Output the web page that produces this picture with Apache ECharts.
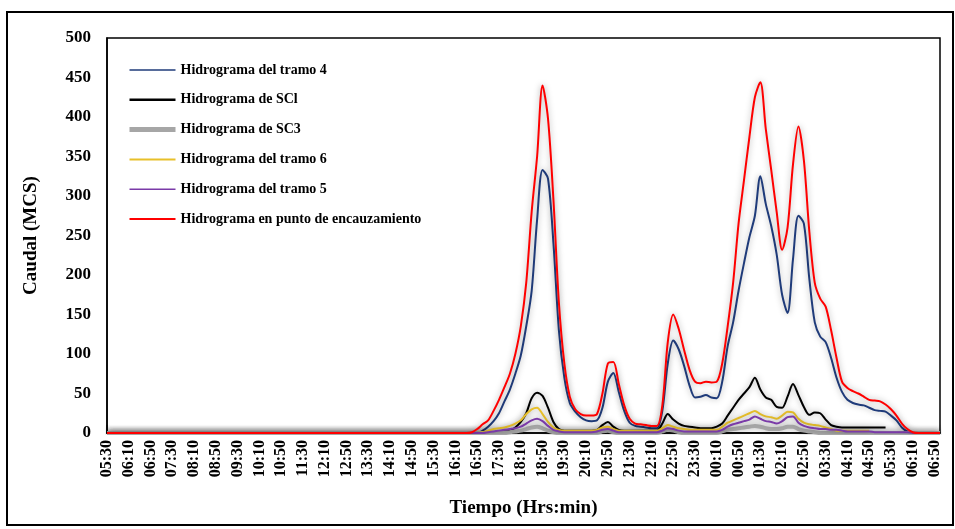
<!DOCTYPE html>
<html>
<head>
<meta charset="utf-8">
<script src="https://cdn.jsdelivr.net/npm/echarts@6/dist/echarts.min.js"></script>
<style>
html,body{margin:0;padding:0;background:#fff;}
#chart{width:955px;height:529px;}
</style>
</head>
<body>
<div id="chart"></div>
<script>
// Time categories (10-minute steps, 05:30 to 07:00 next day)
const categories = [
  "05:30","05:40","05:50",
  "06:00","06:10","06:20","06:30","06:40","06:50",
  "07:00","07:10","07:20","07:30","07:40","07:50",
  "08:00","08:10","08:20","08:30","08:40","08:50",
  "09:00","09:10","09:20","09:30","09:40","09:50",
  "10:00","10:10","10:20","10:30","10:40","10:50",
  "11:00","11:10","11:20","11:30","11:40","11:50",
  "12:00","12:10","12:20","12:30","12:40","12:50",
  "13:00","13:10","13:20","13:30","13:40","13:50",
  "14:00","14:10","14:20","14:30","14:40","14:50",
  "15:00","15:10","15:20","15:30","15:40","15:50",
  "16:00","16:10","16:20","16:30","16:40","16:50",
  "17:00","17:10","17:20","17:30","17:40","17:50",
  "18:00","18:10","18:20","18:30","18:40","18:50",
  "19:00","19:10","19:20","19:30","19:40","19:50",
  "20:00","20:10","20:20","20:30","20:40","20:50",
  "21:00","21:10","21:20","21:30","21:40","21:50",
  "22:00","22:10","22:20","22:30","22:40","22:50",
  "23:00","23:10","23:20","23:30","23:40","23:50",
  "00:00","00:10","00:20","00:30","00:40","00:50",
  "01:00","01:10","01:20","01:30","01:40","01:50",
  "02:00","02:10","02:20","02:30","02:40","02:50",
  "03:00","03:10","03:20","03:30","03:40","03:50",
  "04:00","04:10","04:20","04:30","04:40","04:50",
  "05:00","05:10","05:20","05:30","05:40","05:50",
  "06:00","06:10","06:20","06:30","06:40","06:50",
  "07:00"
];

const yTicks = [0, 50, 100, 150, 200, 250, 300, 350, 400, 450, 500];

const seriesNames = [
  "Hidrograma del tramo 4",
  "Hidrograma de SCl",
  "Hidrograma de SC3",
  "Hidrograma del tramo 6",
  "Hidrograma del tramo 5",
  "Hidrograma en punto de encauzamiento"
];

const tramo4 = [
  0,0,0,0,0,0,0,0,0,0,
  0,0,0,0,0,0,0,0,0,0,
  0,0,0,0,0,0,0,0,0,0,
  0,0,0,0,0,0,0,0,0,0,
  0,0,0,0,0,0,0,0,0,0,
  0,0,0,0,0,0,0,0,0,0,
  0,0,0,0,0,0,0,0,0,3,
  8,15,25,40,55,75,98,135,180,270,
  333,322,240,130,70,38,27,20,16,15,
  16,32,65,76,52,28,13,9,8,7,
  6,6,28,88,117,106,85,60,45,46,
  48,45,44,65,110,140,180,215,248,275,
  325,290,262,226,175,152,220,275,265,195,
  140,122,115,95,70,52,42,38,36,35,
  32,29,28,27,22,16,7,2,0,0,
  0,0,0,0
];

const sc1 = [
  0,0,0,0,0,0,0,0,0,0,
  0,0,0,0,0,0,0,0,0,0,
  0,0,0,0,0,0,0,0,0,0,
  0,0,0,0,0,0,0,0,0,0,
  0,0,0,0,0,0,0,0,0,0,
  0,0,0,0,0,0,0,0,0,0,
  0,0,0,0,0,0,0,0,0,0,
  1,1,2,2,3,7,14,25,44,51,
  47,32,14,5,3,3,3,3,3,3,
  4,10,14,8,4,3,3,3,3,3,
  3,3,12,24,17,12,9,8,7,6,
  6,6,8,12,22,32,42,50,58,70,
  55,45,42,33,32,46,62,48,33,23,
  26,25,17,10,8,7,7,7,7,7,
  7,7,7,7,null,null,null,null,null,null,
  null,null,null,null
];

const sc3 = [
  0,0,0,0,0,0,0,0,0,0,
  0,0,0,0,0,0,0,0,0,0,
  0,0,0,0,0,0,0,0,0,0,
  0,0,0,0,0,0,0,0,0,0,
  0,0,0,0,0,0,0,0,0,0,
  0,0,0,0,0,0,0,0,0,0,
  0,0,0,0,0,0,0,0,0,0,
  0,0,0,0,1,2,3,5,7,8,
  6,3,1,0,0,0,0,0,0,0,
  0,2,3,1,0,0,0,0,0,0,
  0,0,2,4,3,1,0,0,0,0,
  0,0,0,2,4,5,6,7,8,9,
  8,6,5,5,6,8,8,5,3,2,
  1,0,0,0,0,0,0,0,0,0,
  0,0,0,0,0,0,0,0,0,0,
  0,0,0,0
];

const tramo6 = [
  0,0,0,0,0,0,0,0,0,0,
  0,0,0,0,0,0,0,0,0,0,
  0,0,0,0,0,0,0,0,0,0,
  0,0,0,0,0,0,0,0,0,0,
  0,0,0,0,0,0,0,0,0,0,
  0,0,0,0,0,0,0,0,0,0,
  0,0,0,0,0,0,0,0,0,1,
  3,5,6,7,9,12,16,24,30,32,
  24,14,7,4,3,3,3,3,3,3,
  4,7,8,5,3,3,3,3,3,3,
  3,3,6,10,8,6,5,4,4,4,
  4,4,4,8,13,16,19,22,25,28,
  24,21,20,18,22,27,26,18,13,11,
  10,9,7,5,3,3,3,3,3,3,
  3,null,null,null,null,null,null,null,null,null,
  null,null,null,null
];

const tramo5 = [
  0,0,0,0,0,0,0,0,0,0,
  0,0,0,0,0,0,0,0,0,0,
  0,0,0,0,0,0,0,0,0,0,
  0,0,0,0,0,0,0,0,0,0,
  0,0,0,0,0,0,0,0,0,0,
  0,0,0,0,0,0,0,0,0,0,
  0,0,0,0,0,0,0,0,0,0,
  1,2,3,4,5,6,8,12,16,18,
  15,9,4,2,1,1,1,1,1,1,
  2,4,5,3,1,1,1,1,1,1,
  1,1,3,6,5,3,2,2,2,2,
  2,2,2,4,8,11,13,15,17,21,
  18,15,14,12,15,20,21,13,9,7,
  6,5,5,4,4,3,2,2,2,2,
  2,1,1,1,1,1,1,1,0,0,
  0,0,0,0
];

const encauzamiento = [
  0,0,0,0,0,0,0,0,0,0,
  0,0,0,0,0,0,0,0,0,0,
  0,0,0,0,0,0,0,0,0,0,
  0,0,0,0,0,0,0,0,0,0,
  0,0,0,0,0,0,0,0,0,0,
  0,0,0,0,0,0,0,0,0,0,
  0,0,0,0,0,0,0,1,5,11,
  16,28,42,58,75,100,135,190,280,350,
  440,398,295,165,88,46,30,24,22,22,
  24,50,88,90,62,35,18,12,11,10,
  9,9,35,115,150,132,105,80,65,63,
  65,64,65,88,135,190,265,320,375,425,
  444,385,333,280,232,260,340,388,345,255,
  190,170,160,130,95,65,57,53,50,46,
  42,41,40,36,30,22,12,5,1,0,
  0,0,0,0
];

const colors = ["#1f3b7a", "#000000", "#a6a6a6", "#e8c02a", "#7a3aa8", "#ff0000"];
const widths = [2, 2, 4, 2, 2, 2];
const legendWidths = [1.5, 2.5, 5, 2, 1.5, 2];
const dataList = [tramo4, sc1, sc3, tramo6, tramo5, encauzamiento];

const FONT = "'Liberation Serif', 'DejaVu Serif', serif";

const chart = echarts.init(document.getElementById('chart'), null, {renderer: 'canvas'});

const series = seriesNames.map((name, k) => ({
  name: name,
  type: 'line',
  data: dataList[k],
  symbol: 'none',
  showSymbol: false,
  smooth: 0.3,
  connectNulls: false,
  lineStyle: {
    color: colors[k],
    width: widths[k],
    shadowColor: 'rgba(0,0,0,0.35)',
    shadowBlur: 6
  },
  itemStyle: {color: colors[k]},
  z: 2 + k
}));

const option = {
  backgroundColor: '#ffffff',
  animation: false,
  graphic: [{
    type: 'rect',
    shape: {x: 7, y: 12, width: 946, height: 513},
    style: {fill: 'none', stroke: '#000', lineWidth: 2},
    silent: true
  }],
  grid: {
    left: 107, top: 38, right: 15, bottom: 96,
    show: true, borderColor: '#000', borderWidth: 1.5, backgroundColor: 'transparent'
  },
  legend: {
    data: seriesNames.map((n, k) => ({
      name: n,
      lineStyle: {color: colors[k], width: legendWidths[k], shadowBlur: 0}
    })),
    orient: 'vertical',
    left: 122,
    top: 58,
    itemWidth: 46,
    itemHeight: 14,
    itemGap: 15.8,
    itemStyle: {opacity: 0},
    textStyle: {fontFamily: FONT, fontWeight: 'bold', fontSize: 14, color: '#000'}
  },
  xAxis: {
    type: 'category',
    data: categories,
    boundaryGap: false,
    name: 'Tiempo (Hrs:min)',
    nameLocation: 'middle',
    nameGap: 66,
    nameTextStyle: {fontFamily: FONT, fontWeight: 'bold', fontSize: 19, color: '#000'},
    axisLine: {show: true, lineStyle: {color: '#000', width: 1.5}},
    axisTick: {show: false},
    axisLabel: {
      interval: 3,
      rotate: 90,
      margin: 7,
      fontFamily: FONT, fontWeight: 'bold', fontSize: 16, color: '#000'
    },
    splitLine: {show: false}
  },
  yAxis: {
    type: 'value',
    min: yTicks[0],
    max: yTicks[yTicks.length - 1],
    interval: yTicks[1] - yTicks[0],
    name: 'Caudal (MCS)',
    nameLocation: 'middle',
    nameGap: 66,
    nameTextStyle: {fontFamily: FONT, fontWeight: 'bold', fontSize: 19, color: '#000'},
    axisLine: {show: true, lineStyle: {color: '#000', width: 1.5}},
    axisTick: {show: false},
    axisLabel: {margin: 16, fontFamily: FONT, fontWeight: 'bold', fontSize: 17, color: '#000'},
    splitLine: {show: false}
  },
  series: series
};

chart.setOption(option);
</script>
</body>
</html>
